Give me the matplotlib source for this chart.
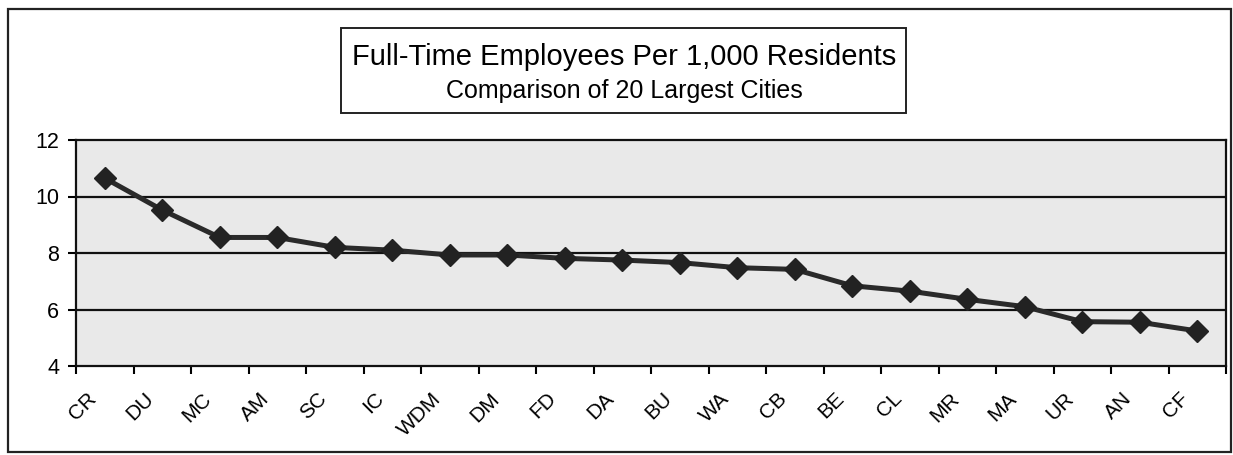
import matplotlib.pyplot as plt
from matplotlib.patches import Rectangle
from matplotlib.transforms import ScaledTranslation

plt.rcParams['font.family'] = ['Liberation Sans', 'DejaVu Sans']

# data
cities = ['CR', 'DU', 'MC', 'AM', 'SC', 'IC', 'WDM', 'DM', 'FD', 'DA',
          'BU', 'WA', 'CB', 'BE', 'CL', 'MR', 'MA', 'UR', 'AN', 'CF']
employees_per_1000 = [10.65, 9.52, 8.55, 8.55, 8.2, 8.1, 7.93, 7.93, 7.81, 7.75,
                      7.66, 7.48, 7.42, 6.84, 6.65, 6.36, 6.1, 5.57, 5.55, 5.24]
y_ticks = [4, 6, 8, 10, 12]

W, H = 1233, 455
fig = plt.figure(figsize=(W / 100, H / 100), dpi=100)

# outer frame
fig.patches.append(Rectangle((8 / W, 1 - 452 / H), (1231 - 8) / W, (452 - 9) / H,
                             transform=fig.transFigure, fill=False,
                             edgecolor='#222222', linewidth=1.6))

ax = fig.add_axes([76 / W, 1 - 366 / H, (1226 - 76) / W, (366 - 140) / H])
ax.set_facecolor('#e9e9e9')

x = list(range(len(cities)))
ax.plot(x, employees_per_1000, color='#2a2a2a', linewidth=3.6,
        marker='D', markersize=11, markerfacecolor='#222222',
        markeredgecolor='#222222', zorder=3)

ax.set_xlim(-0.5, len(cities) - 0.5)
ax.set_ylim(4, 12)
ax.set_yticks(y_ticks)
ax.set_yticklabels([str(v) for v in y_ticks], fontsize=15.5)
for v in y_ticks[1:-1]:
    ax.axhline(v, color='#111111', linewidth=1.6, zorder=1)

# category ticks sit between the categories, labels drawn as rotated text
ax.set_xticks([i - 0.5 for i in range(len(cities) + 1)])
ax.set_xticklabels([])
lab_tr = ax.get_xaxis_transform() + ScaledTranslation(-18 / 100, -23 / 100,
                                                        fig.dpi_scale_trans)
for xi, name in zip(x, cities):
    ax.text(xi, 0, name, transform=lab_tr, rotation=45, rotation_mode='anchor',
            ha='right', va='top', fontsize=15, clip_on=False)
ax.tick_params(axis='x', length=5.5, width=1.5, direction='out')
ax.tick_params(axis='y', length=6, width=1.5, direction='out', pad=6)
for s in ax.spines.values():
    s.set_linewidth(1.6)
    s.set_color('#111111')

# title box
fig.patches.append(Rectangle((341 / W, 1 - 113 / H), (906 - 341) / W, (113 - 28) / H,
                             transform=fig.transFigure, fill=True, facecolor='white',
                             edgecolor='#222222', linewidth=1.4))
fig.text(624 / W, 1 - 65 / H, 'Full-Time Employees Per 1,000 Residents',
         ha='center', va='baseline', fontsize=21)
fig.text(624 / W, 1 - 98 / H, 'Comparison of 20 Largest Cities',
         ha='center', va='baseline', fontsize=18)

fig.savefig('out.png', dpi=100)
